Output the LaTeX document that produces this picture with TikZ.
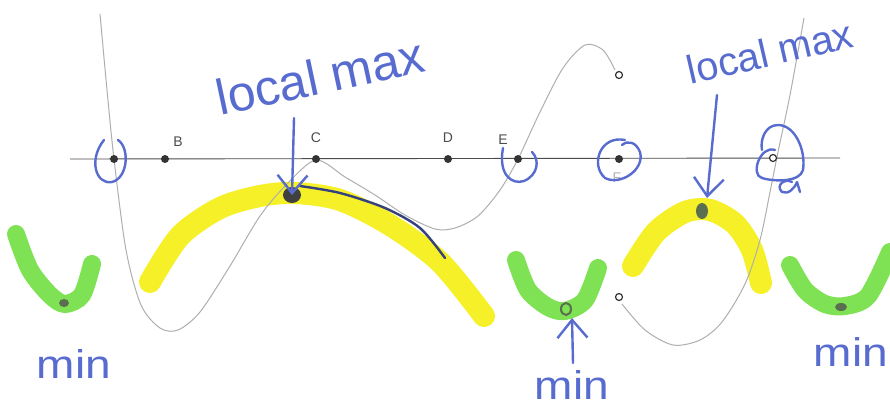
\documentclass[tikz,border=0pt]{standalone}
\usepackage{fontspec}
\setmainfont{Liberation Sans}
\usepackage{xcolor}
\usetikzlibrary{arrows.meta,positioning}

\definecolor{penblue}{RGB}{88,108,208}
\definecolor{hlyellow}{RGB}{246,240,40}
\definecolor{hlgreen}{RGB}{126,226,84}
\definecolor{graphgray}{RGB}{175,175,175}
\definecolor{dotgreen}{RGB}{90,110,80}

\begin{document}
\begin{tikzpicture}[
    x=1pt, y=-1pt,
    yellowmark/.style={line width=22pt, color=hlyellow, line cap=round},
    greenmark/.style={line width=18pt, color=hlgreen, line cap=round},
    graphline/.style={line width=1pt, color=graphgray},
    pen/.style={line width=2.4pt, color=penblue, line cap=round, line join=round},
    penarrow/.style={pen, -{Straight Barb[length=18pt,width=30pt,line width=2.4pt]}},
    penword/.style={text=penblue, font=\fontsize{50}{54}\selectfont, inner sep=0pt},
    minword/.style={penword, font=\fontsize{40}{44}\selectfont, xscale=1.15},
    ptlabel/.style={text=black!70, font=\fontsize{14}{16}\selectfont, inner sep=0pt}
]
\useasboundingbox[fill=white] (0,0) rectangle (890,409);

% highlighter marks
\draw[yellowmark] plot[smooth] coordinates {(150,282) (180,236) (220,208) (260,196) (295,193) (340,200) (390,225) (440,262) (484,316)};
\draw[yellowmark] plot[smooth] coordinates {(633,266) (656,232) (685,212) (710,210) (735,224) (752,250) (761,283)};
\draw[greenmark] plot[smooth] coordinates {(16,234) (30,270) (50,295) (65,304) (82,295) (92,264)};
\draw[greenmark] plot[smooth] coordinates {(516,260) (528,290) (548,307) (565,311) (585,300) (598,268)};
\draw[greenmark] plot[smooth] coordinates {(790,265) (805,290) (825,304) (845,306) (868,296) (890,252)};

% graph of the function
\draw[graphline] plot[smooth] coordinates {(100,14) (107,90) (114,159) (126,250) (141,305) (160,328) (178,330) (200,312) (230,266) (260,216) (287,184) (316,160) (345,177) (375,195) (405,215) (435,229) (455,228) (478,216) (500,190) (518,159) (540,112) (563,68) (585,45) (603,50) (615,70)};
\draw[graphline] plot[smooth] coordinates {(622,304) (645,330) (673,345) (700,340) (722,322) (745,284) (760,240) (770,192) (778,152) (790,95) (804,18)};

% x-axis and points
\draw[line width=0.9pt, black!70] (70,159) -- (840,158);
\foreach \nm/\px in {A/114, B/165, C/316, D/448, E/518, F/619}
  \fill[black!80] (\px,159) circle (4) coordinate (pt\nm);
\coordinate (ptG) at (773,158);
\draw[black!80, line width=1.2pt, fill=white] (ptG) circle (3.5);
\draw[black!80, line width=1.2pt, fill=white] (619,75) circle (3.5) coordinate (openTop);
\draw[black!80, line width=1.2pt, fill=white] (619,297) circle (3.5) coordinate (openBot);

\node[ptlabel] (labB) at (178,142) {B};
\node[ptlabel] (labC) at (316,138) {C};
\node[ptlabel] (labD) at (448,138) {D};
\node[ptlabel] (labE) at (503,140) {E};
\node[ptlabel, text=black!30] (labF) at (617,178) {F};

% pen marks on the extrema
\fill[black!75] (292,195) ellipse (9 and 8) coordinate (maxL);
\draw[pen, color=penblue!60!black] plot[smooth] coordinates {(300,186) (340,193) (385,208) (420,228) (445,258)};
\fill[dotgreen] (702,211) ellipse (6 and 8) coordinate (maxR);
\draw[dotgreen, line width=2pt] (566,309) ellipse (5 and 6) coordinate (minM);
\fill[dotgreen] (841,307) ellipse (6 and 4) coordinate (minR);
\fill[dotgreen] (64,303) ellipse (5 and 4) coordinate (minL);

% circled points
\draw[pen] (104,140) .. controls (88,160) and (96,185) .. (112,182) .. controls (128,178) and (130,148) .. (118,140);
\draw[pen] (503,148) .. controls (498,175) and (512,185) .. (524,181) .. controls (538,175) and (540,160) .. (532,152);
\draw[pen] (625,140) .. controls (600,135) and (590,165) .. (605,178) .. controls (620,186) and (645,170) .. (640,152) .. controls (636,142) and (628,140) .. (622,145);
\draw[pen] (775,150) .. controls (760,145) and (750,175) .. (762,178) .. controls (775,182) and (800,182) .. (803,170) .. controls (806,150) and (795,125) .. (778,125) .. controls (765,125) and (760,140) .. (762,150);
\draw[pen] (792,182) .. controls (785,178) and (775,185) .. (782,192) .. controls (788,195) and (795,188) .. (797,182) -- (800,192);

% handwritten words
\node[penword, rotate=12] (lmaxL) at (320,76) {local max};
\node[penword, font=\fontsize{40}{44}\selectfont, rotate=13] (lmaxR) at (770,52) {local max};
\node[minword] (minLtxt) at (74,364) {min};
\node[minword] (minMtxt) at (572,385) {min};
\node[minword] (minRtxt) at (851,352) {min};

% arrows
\coordinate (arrL) at (294,118);
\coordinate (arrR) at (717,95);
\coordinate (arrM) at (573,363);
\draw[penarrow] (arrL) -- (maxL);
\draw[penarrow] (arrR) -- (707,198);
\draw[penarrow] (arrM) -- (572,318);

\end{tikzpicture}
\end{document}
